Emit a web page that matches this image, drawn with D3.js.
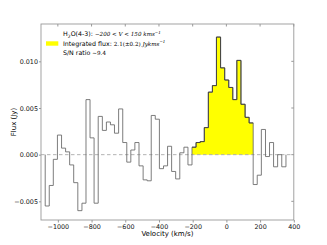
<!DOCTYPE html>
<html>
<head>
<meta charset="utf-8">
<script src="https://cdn.jsdelivr.net/npm/d3@7"></script>
<style>
  body { margin: 0; background: #fff; }
  text { font-family: "DejaVu Sans", sans-serif; }
  .math { font-family: "DejaVu Serif", serif; }
</style>
</head>
<body>
<script>
// channel centres (km/s) and flux (Jy)
const velocity = [-1063, -1039, -1015, -990, -966, -942, -918, -894, -869, -845,
    -821, -797, -773, -748, -724, -700, -676, -652, -627, -603,
    -579, -555, -531, -506, -482, -458, -434, -410, -385, -361,
    -337, -313, -289, -264, -240, -216, -192, -168, -143, -119,
    -95, -71, -47, -22, 2, 26, 50, 74, 99, 123,
    147, 171, 195, 220, 244, 268, 292, 316, 341];
const flux = [-0.0055, -0.0033, -0.0005, 0.0021, 0.0007, 0.0003, -0.0011, -0.0030, -0.0060, -0.0052,
    0.0059, 0.0018, -0.0052, 0.0041, 0.0026, 0.0035, 0.0032, 0.0023, 0.0049, 0.0013,
    -0.0008, 0.0005, 0.0013, -0.0012, -0.0027, -0.0028, 0.0042, 0.0038, -0.0015, -0.0012,
    0.0009, -0.0018, -0.0026, 0.0002, 0.0008, -0.0011, 0.0008, 0.0013, 0.0014, 0.0029,
    0.0067, 0.0074, 0.0126, 0.0093, 0.0080, 0.0072, 0.0059, 0.0101, 0.0054, 0.0040,
    0.0034, -0.0032, -0.0022, 0.0027, -0.0002, 0.0013, -0.0013, 0.0000, -0.0013];
const lineRange = [-200, 150];
const xTicks = [-1000, -800, -600, -400, -200, 0, 200, 400];
const yTicks = [-0.005, 0, 0.005, 0.010];

const W = 327, H = 245;
const L = 41, R = 293.8, T = 24, B = 220;

const svg = d3.select("body").append("svg")
    .attr("width", W)
    .attr("height", H);

const x = d3.scaleLinear().domain([-1100, 400]).range([L, R]);
const y = d3.scaleLinear().domain([-0.007, 0.014]).range([B, T]);

// bin edges halfway between channel centres
let edges = [];
for (let i = 0; i < velocity.length; i++) {
    let lo = i == 0 ? velocity[0] - (velocity[1] - velocity[0]) / 2 : (velocity[i - 1] + velocity[i]) / 2;
    let hi = i == velocity.length - 1 ? velocity[i] + (velocity[i] - velocity[i - 1]) / 2 : (velocity[i] + velocity[i + 1]) / 2;
    edges.push([lo, hi]);
}

// yellow integrated region
let inLine = d3.range(velocity.length).filter(i => velocity[i] > lineRange[0] && velocity[i] < lineRange[1] + 12);
let areaPts = [];
inLine.forEach(i => {
    areaPts.push([edges[i][0], flux[i]]);
    areaPts.push([edges[i][1], flux[i]]);
});
svg.append("path")
    .attr("d", d3.area().x(d => x(d[0])).y0(y(0)).y1(d => y(d[1]))(areaPts))
    .attr("fill", "#ffff00");

// zero line
svg.append("line")
    .attr("x1", L).attr("x2", R)
    .attr("y1", y(0)).attr("y2", y(0))
    .attr("stroke", "#aaa")
    .attr("stroke-width", 0.9)
    .attr("stroke-dasharray", "3.5,2.5");

// step spectrum
let pts = [[edges[0][0], 0]];
flux.forEach((f, i) => {
    pts.push([edges[i][0], f]);
    pts.push([edges[i][1], f]);
});
pts.push([edges[edges.length - 1][1], 0]);
svg.append("path")
    .attr("d", d3.line().x(d => x(d[0])).y(d => y(d[1]))(pts))
    .attr("fill", "none")
    .attr("stroke", "#666")
    .attr("stroke-width", 0.85);

// darker outline over the yellow part
svg.append("path")
    .attr("d", d3.line().x(d => x(d[0])).y(d => y(d[1]))(areaPts))
    .attr("fill", "none")
    .attr("stroke", "#3a3a3a")
    .attr("stroke-width", 0.85);

// frame
svg.append("rect")
    .attr("x", L).attr("y", T)
    .attr("width", R - L).attr("height", B - T)
    .attr("fill", "none")
    .attr("stroke", "#999")
    .attr("stroke-width", 0.9);

// axes
let xAxis = svg.append("g")
    .attr("transform", "translate(0," + B + ")")
    .call(d3.axisBottom(x).tickValues(xTicks).tickSize(2.5).tickPadding(1.5)
        .tickFormat(d => d3.format("d")(d).replace("-", "\u2212")));
let yAxis = svg.append("g")
    .attr("transform", "translate(" + L + ",0)")
    .call(d3.axisLeft(y).tickValues(yTicks).tickSize(2).tickPadding(1)
        .tickFormat(d => d3.format(".3f")(d).replace("-", "\u2212")));
[xAxis, yAxis].forEach(g => {
    g.select(".domain").remove();
    g.selectAll(".tick line").attr("stroke", "#999");
    g.selectAll(".tick text").attr("font-size", 6.4).attr("fill", "#111")
        .attr("font-family", "DejaVu Sans, sans-serif");
});

// inner ticks on top and right
svg.append("g").selectAll("line").data(xTicks).enter().append("line")
    .attr("x1", d => x(d)).attr("x2", d => x(d))
    .attr("y1", T).attr("y2", T + 2.5)
    .attr("stroke", "#999");
svg.append("g").selectAll("line").data(yTicks).enter().append("line")
    .attr("x1", R).attr("x2", R - 2.5)
    .attr("y1", d => y(d)).attr("y2", d => y(d))
    .attr("stroke", "#999");

// axis labels
svg.append("text")
    .attr("x", (L + R) / 2).attr("y", 236)
    .attr("text-anchor", "middle")
    .attr("font-size", 7)
    .text("Velocity (km/s)");
svg.append("text")
    .attr("transform", "translate(16,122) rotate(-90)")
    .attr("text-anchor", "middle")
    .attr("font-size", 7)
    .text("Flux (Jy)");

// legend
let leg = svg.append("g").attr("font-size", 6.3);
let t1 = leg.append("text").attr("x", 63).attr("y", 36);
t1.append("tspan").text("H");
t1.append("tspan").attr("font-size", 4.5).attr("dy", 1.5).text("2");
t1.append("tspan").attr("dy", -1.5).text("O(4-3): ");
t1.append("tspan").attr("class", "math").attr("font-style", "italic").attr("font-size", 5.6)
    .text("\u2212200 < V < 150  kms");
t1.append("tspan").attr("class", "math").attr("font-style", "italic").attr("font-size", 4).attr("dy", -2.2).text("\u22121");

leg.append("rect")
    .attr("x", 46).attr("y", 41.3)
    .attr("width", 12.3).attr("height", 4.4)
    .attr("fill", "#ffff00");
let t2 = leg.append("text").attr("x", 63).attr("y", 45.5);
t2.append("tspan").text("Integrated flux: ");
t2.append("tspan").attr("class", "math").attr("font-size", 5.6).text("2.1(\u00b10.2)  ");
t2.append("tspan").attr("class", "math").attr("font-style", "italic").attr("font-size", 5.6).text("Jykms");
t2.append("tspan").attr("class", "math").attr("font-style", "italic").attr("font-size", 4).attr("dy", -2.2).text("\u22121");

let t3 = leg.append("text").attr("x", 63).attr("y", 54.5);
t3.append("tspan").text("S/N ratio ");
t3.append("tspan").attr("class", "math").attr("font-size", 5.6).text("\u223c9.4");
</script>
</body>
</html>
